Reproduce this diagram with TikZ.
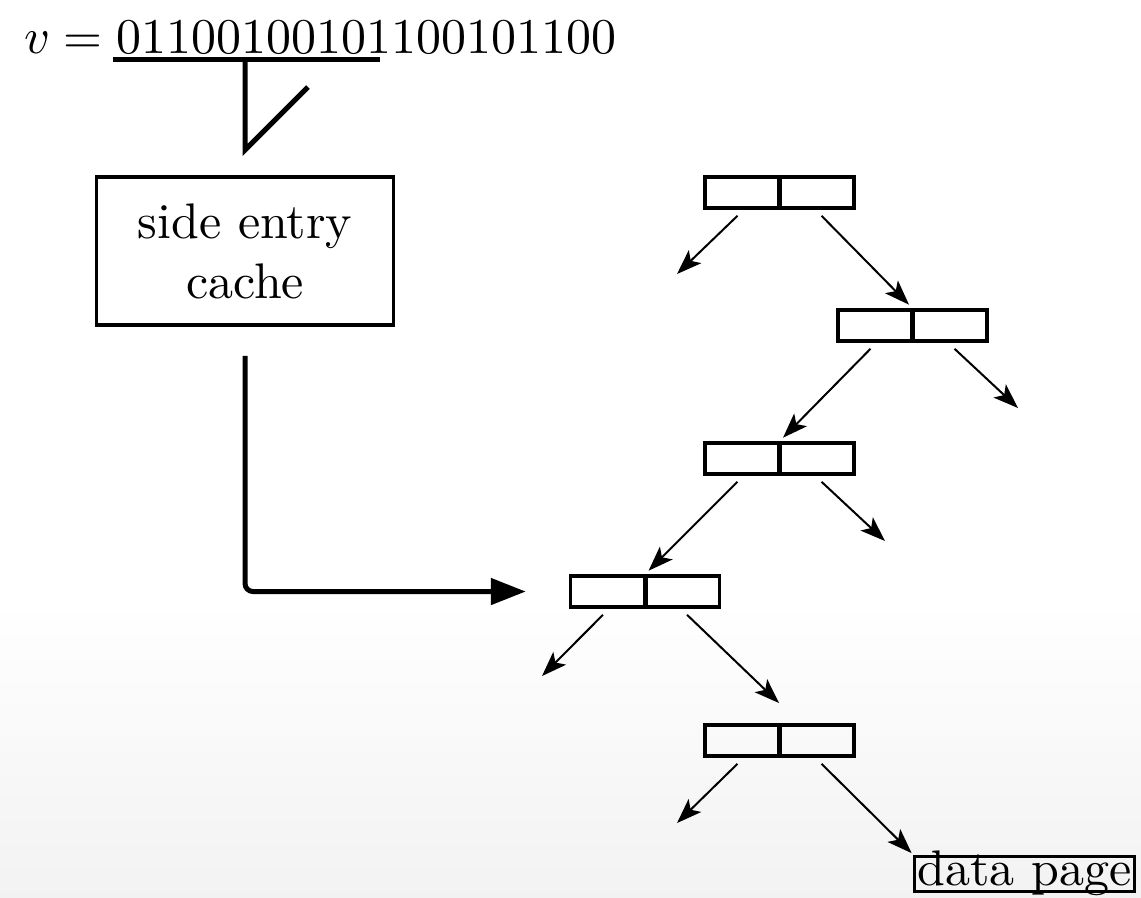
\documentclass[tikz,border=0pt]{standalone}
\usetikzlibrary{arrows.meta}
\usetikzlibrary{positioning}
\tikzset{pair/.style={ % a tree node with two cells
      draw, line width=0.7pt,
      minimum width=29.8pt, minimum height=6.2pt, inner sep=0pt,
      path picture={\draw[line width=1pt] (path picture bounding box.north) -- (path picture bounding box.south);}},
      cachebox/.style={ % the cache in front of the tree
      draw, line width=0.7pt,
      minimum width=59.4pt, minimum height=29.6pt, align=center},
      pagebox/.style={ % tight box round the leaf
      draw, line width=0.6pt,
      inner sep=0pt, inner xsep=0.6pt, text height=5.8pt, text depth=1.2pt},
      heavy/.style={line width=1pt}, % lines of the key and the jump
      arr/.style={ % pointers of the tree
      -{Stealth[length=5pt,width=3.6pt,inset=1.2pt]},
      line width=0.4pt}}

\begin{document}
\begin{tikzpicture}[x=0.2pt, y=-0.2pt] % one unit is one pixel of the sketch
      \useasboundingbox (0,0) rectangle (1141,897);
      \shade[top color=white, bottom color=black!5] (0,600) rectangle (1141,897);

      % the key and its prefix
      \node[anchor=base west, inner sep=0pt] (key) at (23,53) {$v = 01100100101100101100$};
      \draw[heavy] (113,59) -- (380,59);
      \draw[heavy] (245,60) -- (245,150) -- (308,87);

      \node[cachebox] (cache) at (245,251) {side entry\\cache};

      % the tree
      \node[pair] (n1) at (779.5,192.5) {};
      \node[pair] (n2) at (912.5,325.5) {};
      \node[pair] (n3) at (779.5,458.5) {};
      \node[pair] (n4) at (645,591.5) {};
      \node[pair] (n5) at (779.5,740.5) {};
      \node[pagebox] (page) at (1024.5,873.5) {data page};

      \coordinate (n1l) at (677,274);
      \coordinate (n2r) at (1018,408);
      \coordinate (n3r) at (885,541);
      \coordinate (n4l) at (542,676);
      \coordinate (n4r) at (779,703);
      \coordinate (n5l) at (677,823);

      \draw[arr] ([xshift=-8.4pt,yshift=-1.2pt]n1.south) -- (n1l);
      \draw[arr, shorten >=1pt] ([xshift=8.4pt,yshift=-1.2pt]n1.south) -- (n2.north);
      \draw[arr, shorten >=1pt] ([xshift=-8.4pt,yshift=-1.2pt]n2.south) -- (n3.north);
      \draw[arr] ([xshift=8.4pt,yshift=-1.2pt]n2.south) -- (n2r);
      \draw[arr, shorten >=1pt] ([xshift=-8.4pt,yshift=-1.2pt]n3.south) -- (n4.north);
      \draw[arr] ([xshift=8.4pt,yshift=-1.2pt]n3.south) -- (n3r);
      \draw[arr] ([xshift=-8.4pt,yshift=-1.2pt]n4.south) -- (n4l);
      \draw[arr] ([xshift=8.4pt,yshift=-1.2pt]n4.south) -- (n4r);
      \draw[arr] ([xshift=-8.4pt,yshift=-1.2pt]n5.south) -- (n5l);
      \draw[arr, shorten >=0.4pt] ([xshift=8.4pt,yshift=-1.2pt]n5.south) -- (page.north west);

      % jump from the cache into the tree
      \draw[heavy, rounded corners=1.6pt, shorten >=8.6pt, -{Triangle[length=7pt,width=5.2pt]}]
            ([yshift=-5.8pt]cache.south) |- (n4.west);
\end{tikzpicture}
\end{document}
